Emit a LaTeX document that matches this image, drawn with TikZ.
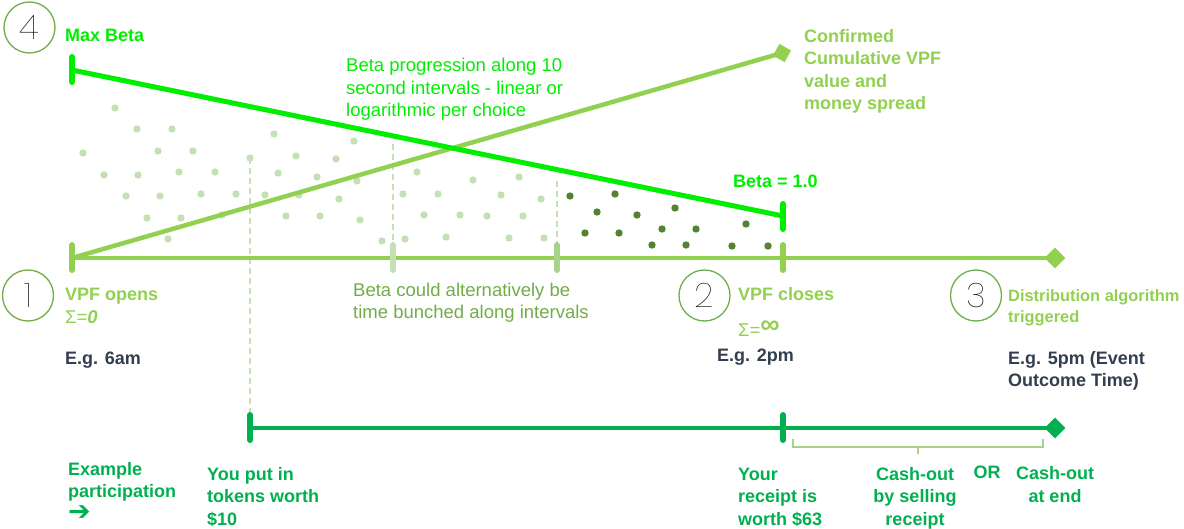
\documentclass[tikz,border=0pt]{standalone}
\usepackage{fontspec}
\setmainfont{Liberation Sans}
\newfontfamily\arrowfont{DejaVu Sans}
\IfFontExistsTF{Poppins Thin}{\newfontfamily\numfont{Poppins Thin}}{\newfontfamily\numfont{DejaVu Sans}}
\definecolor{vpfbright}{RGB}{0,238,0}
\definecolor{vpflime}{RGB}{146,208,80}
\definecolor{vpfmid}{RGB}{112,173,71}
\definecolor{vpfpale}{RGB}{197,224,180}
\definecolor{vpfsoft}{RGB}{169,209,142}
\definecolor{vpfdark}{RGB}{84,130,53}
\definecolor{vpfgreen}{RGB}{0,176,80}
\definecolor{vpfslate}{RGB}{51,63,80}
\usetikzlibrary{arrows.meta,positioning,shapes.geometric,calc}

\begin{document}
\begin{tikzpicture}[x=1pt, y=-1pt,
    lbl/.style={anchor=base west, inner sep=0pt, align=left, font=\fontsize{18.5}{22.5}\selectfont},
    blbl/.style={lbl, font=\fontsize{18}{22.5}\selectfont\bfseries},
    clbl/.style={blbl, anchor=base, align=center},
    stepnum/.style={circle, draw=vpfmid, line width=1.3pt, minimum size=51pt, inner sep=0pt,
      font=\numfont\fontsize{34}{34}\selectfont},
    bar/.style={line width=6pt, line cap=round},
    dashline/.style={vpfpale, line width=1.6pt, dash pattern=on 6pt off 4pt}]
    \useasboundingbox (0,0) rectangle (1184,529);

    % Key points on the three lines
    \coordinate (open)    at (72,258);
    \coordinate (closeT)  at (783,258);
    \coordinate (dist)    at (1055,258);
    \coordinate (maxb)    at (72,70);
    \coordinate (betaone) at (783,216);
    \coordinate (cumul)   at (782,53);
    \coordinate (putin)   at (250,428);
    \coordinate (receipt) at (783,428);
    \coordinate (payout)  at (1055,428);
    \coordinate (puttop)  at (250,158);
    \coordinate (int1top) at (393,144);
    \coordinate (int1)    at (393,244);
    \coordinate (int2top) at (557,181);
    \coordinate (int2)    at (557,244);

    % Interval markers (dashed)
    \draw[dashline] (puttop) -- (putin);
    \draw[dashline] (int1top) -- (int1);
    \draw[dashline] (int2top) -- (int2);

    % Money spread dots (light part, then dark last interval)
    \foreach \p in {(115,108),(137,129),(172,129),(83,153),(158,151),(193,151),(250,158),
        (104,175),(138,175),(179,172),(215,172),(126,196),(160,196),(201,194),(236,194),
        (147,218),(181,218),(222,215),(168,239),(274,134),(354,141),(296,156),(336,159),
        (278,173),(317,177),(357,181),(265,195),(299,195),(339,199),(286,216),(320,216),
        (360,220),(382,241),(417,172),(473,180),(519,177),(403,194),(438,194),(501,195),
        (541,199),(424,215),(460,215),(487,216),(523,216),(405,239),(446,237),(509,238),(544,238)}
      \fill[vpfpale] \p circle (3.7);
    \foreach \p in {(570,196),(615,194),(597,212),(637,215),(675,208),(585,233),(619,233),
        (662,229),(696,229),(652,245),(686,245),(746,224),(732,246),(768,246)}
      \fill[vpfdark] \p circle (3.7);

    % Main timeline
    \draw[vpflime, line width=4pt] (open) -- (dist);
    \node[diamond, fill=vpflime, minimum size=21pt, inner sep=0pt] (distmark) at (dist) {};
    \draw[bar, vpflime] (72,245) -- (72,270);
    \draw[bar, vpfpale] (393,245) -- (393,270);
    \draw[bar, vpfsoft] (557,245) -- (557,270);
    \draw[bar, vpflime] (783,245) -- (783,270);

    % Cumulative value line
    \draw[vpflime, line width=4.5pt] (open) -- (cumul);
    \node[diamond, fill=vpflime, minimum size=19pt, inner sep=0pt, rotate=16] (cumulmark) at (cumul) {};

    % Beta line
    \draw[vpfbright, line width=5pt] (maxb) -- (betaone);
    \draw[bar, vpfbright] (72,57) -- (72,82);
    \draw[bar, vpfbright] (783,204) -- (783,229);

    % Example participation line
    \draw[vpfgreen, line width=4pt] (putin) -- (payout);
    \node[diamond, fill=vpfgreen, minimum size=21pt, inner sep=0pt] (paymark) at (payout) {};
    \draw[bar, vpfgreen] (250,415) -- (250,440);
    \draw[bar, vpfgreen] (783,415) -- (783,440);
    \draw[vpfsoft, line width=1.5pt] (793,439) -- (793,447) -- (1043,447) -- (1043,439);
    \draw[vpfsoft, line width=1.5pt] (918,447) -- (918,454);

    % Step circles
    \node[stepnum] (s4) at (29.5,27.5) {4};
    \node[stepnum] (s1) at (28,295.5) {1};
    \node[stepnum] (s2) at (704.5,295.5) {2};
    \node[stepnum] (s3) at (976,295.5) {3};

    % Upper labels (multi-line: placed at baseline of last line)
    \node[blbl, vpfbright] (lmax) at (65,42) {Max Beta};
    \node[lbl, vpfbright] (lprog) at (346,117) {Beta progression along 10\\second intervals - linear or\\logarithmic per choice};
    \node[blbl, vpflime] (lconf) at (804,110) {Confirmed\\Cumulative VPF\\value and\\money spread};
    \node[blbl, vpfbright] (lbeta) at (733,188) {Beta = 1.0};

    % Timeline labels
    \node[blbl, vpflime] (lopen) at (65,301) {VPF opens};
    \node[lbl, vpflime] (lsig0) at (65,324) {Σ=\textit{\textbf{0}}};
    \node[blbl, vpfslate] (l6am) at (65,365) {E.g. 6am};
    \node[lbl, vpfmid] (lbunch) at (353,319) {Beta could alternatively be\\time bunched along intervals};
    \node[blbl, vpflime] (lclose) at (738,301) {VPF closes};
    \node[lbl, vpflime] (lsiginf) at (738,337) {Σ=\raisebox{3pt}{\fontsize{27}{27}\selectfont\bfseries ∞}};
    \node[blbl, vpfslate] (l2pm) at (717,362) {E.g. 2pm};
    \node[blbl, vpflime, font=\fontsize{16.4}{21.5}\selectfont\bfseries] (ldist) at (1008,323) {Distribution algorithm\\triggered};
    \node[blbl, vpfslate] (l5pm) at (1008,387) {E.g. 5pm (Event\\Outcome Time)};

    % Participation labels
    \node[blbl, vpfgreen] (lex) at (68,520) {Example\\participation\\{\arrowfont\fontsize{27}{22}\selectfont ➔}};
    \node[blbl, vpfgreen] (lput) at (207,525) {You put in\\tokens worth\\\$10};
    \node[blbl, vpfgreen] (lrec) at (738,525) {Your\\receipt is\\worth \$63};
    \node[clbl, vpfgreen] (lsell) at (915,525) {Cash-out\\by selling\\receipt};
    \node[clbl, vpfgreen] (lor) at (987,478) {OR};
    \node[clbl, vpfgreen] (lend) at (1055,502) {Cash-out\\at end};
  \end{tikzpicture}
\end{document}
